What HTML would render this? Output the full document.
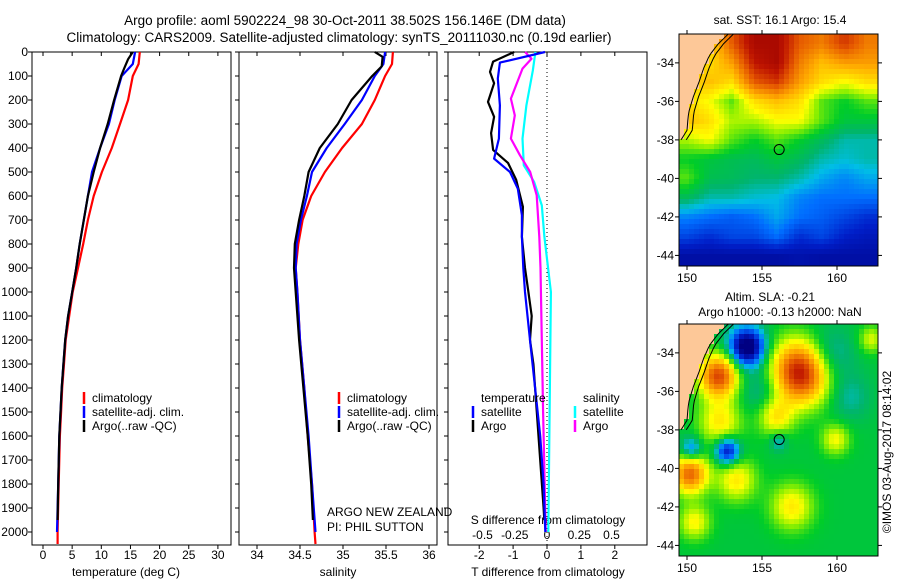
<!DOCTYPE html>
<html><head><meta charset="utf-8"><style>
body{margin:0;background:#fff;}
svg{display:block;font-family:"Liberation Sans",sans-serif;}
text{fill:#000;}
</style></head><body>
<svg id="fig" width="900" height="580" xmlns="http://www.w3.org/2000/svg">
<text x="345" y="25" font-size="13.5" text-anchor="middle">Argo profile: aoml 5902224_98 30-Oct-2011 38.502S 156.146E (DM data)</text>
<text x="339" y="42" font-size="13.5" text-anchor="middle">Climatology: CARS2009. Satellite-adjusted climatology: synTS_20111030.nc (0.19d earlier)</text>
<g id="p1"></g>
<g id="p2"></g>
<g id="p3"></g>
<g id="m1"></g>
<g id="m2"></g>
<text x="780" y="24" font-size="12" text-anchor="middle">sat. SST: 16.1 Argo: 15.4</text>
<text x="770" y="301" font-size="12" text-anchor="middle">Altim. SLA: -0.21</text>
<text x="780" y="316" font-size="12" text-anchor="middle">Argo h1000: -0.13 h2000: NaN</text>
<text transform="translate(891,452) rotate(-90)" font-size="12" text-anchor="middle">©IMOS 03-Aug-2017 08:14:02</text>
<text x="327" y="516" font-size="12">ARGO NEW ZEALAND</text>
<text x="327" y="531" font-size="12">PI: PHIL SUTTON</text>
</svg>
<script>
// ---- data ----
const depthTicks=[0,100,200,300,400,500,600,700,800,900,1000,1100,1200,1300,1400,1500,1600,1700,1800,1900,2000];
const tempTicks=[0,5,10,15,20,25,30];
const salTicks=[34,34.5,35,35.5,36];
const tdiffTicks=[-2,-1,0,1,2];
const sdiffTicks=[-0.5,-0.25,0,0.25,0.5];
const sdiffTickLabels=['-0.5','-0.25','0','0.25','0.5'];

const tDepth=[0,50,100,200,300,400,500,600,700,800,900,1000,1100,1200,1300,1400,1500,1600,1800,2000,2050];
const tClim=[16.6,16.4,15.4,14.6,13.2,11.8,10.1,8.7,7.7,6.9,6.0,5.1,4.5,3.9,3.6,3.3,3.1,2.9,2.7,2.5,2.5];
const tSat=[15.8,15.4,13.5,12.3,11.3,9.8,8.4,7.7,7.0,6.3,5.7,5.0,4.3,3.8,3.5,3.2,3.0,2.8,2.6,2.4,2.4];
const tArgoDepth=[0,30,70,100,200,300,400,500,600,700,800,900,1000,1100,1200,1400,1600,1800,1950];
const tArgo=[15.4,14.6,13.9,13.4,12.2,11.1,9.8,8.7,7.7,7.0,6.3,5.7,5.0,4.3,3.8,3.2,2.8,2.6,2.5];

const sDepth=[0,50,100,200,300,400,500,600,700,800,900,1000,1200,1400,1600,1800,2000,2050];
const sClim=[35.58,35.57,35.49,35.37,35.22,34.99,34.79,34.63,34.53,34.48,34.45,34.47,34.50,34.55,34.59,34.64,34.67,34.68];
const sSat=[35.49,35.47,35.37,35.22,35.02,34.81,34.64,34.58,34.51,34.46,34.45,34.47,34.5,34.55,34.6,34.64,34.68,34.68];
const sArgoDepth=[0,20,60,100,200,300,400,500,600,700,800,900,1000,1200,1400,1600,1800,1950];
const sArgo=[35.37,35.46,35.45,35.34,35.1,34.94,34.73,34.6,34.55,34.49,34.44,34.43,34.45,34.49,34.54,34.59,34.63,34.65];

const dtArgoDepth=[0,40,83,130,208,270,338,408,462,533,645,770,900,1000,1100,1200,1300,1500,1700,1900,1950];
const dtArgo=[-0.97,-1.59,-1.68,-1.56,-1.74,-1.56,-1.65,-1.59,-1.15,-0.91,-0.71,-0.74,-0.65,-0.55,-0.45,-0.5,-0.4,-0.3,-0.2,-0.1,-0.08];
const dtSatDepth=[0,44,111,222,361,444,500,569,680,770,900,1000,1200,1400,1600,1800,2000];
const dtSat=[-0.06,-1.39,-1.45,-1.39,-1.42,-1.56,-1.09,-0.86,-0.74,-0.74,-0.7,-0.65,-0.5,-0.35,-0.2,-0.1,-0.05];
const dsArgoDepth=[0,28,69,194,264,361,430,500,597,770,900,1200,1500,2000];
const dsArgo=[-0.17,-0.12,-0.19,-0.28,-0.25,-0.28,-0.21,-0.13,-0.08,-0.06,-0.05,-0.04,-0.03,-0.01];
const dsSatDepth=[0,78,222,361,472,541,639,770,1000,1500,2000];
const dsSat=[-0.09,-0.11,-0.16,-0.19,-0.18,-0.1,-0.04,-0.02,0.03,0.02,0.01];

const sstGrid=[
[-1,-1,0.8,0.95,0.95,0.8,0.75,0.85,0.75],
[-1,0.6,0.7,0.9,0.95,0.75,0.65,0.7,0.7],
[-1,0.65,0.6,0.8,0.85,0.7,0.6,0.55,0.6],
[0.6,0.55,0.45,0.6,0.65,0.6,0.45,0.4,0.45],
[0.65,0.6,0.5,0.5,0.55,0.55,0.45,0.38,0.38],
[0.5,0.55,0.45,0.4,0.45,0.4,0.35,0.3,0.3],
[0.4,0.38,0.36,0.35,0.38,0.35,0.3,0.28,0.3],
[0.45,0.36,0.35,0.33,0.33,0.3,0.25,0.22,0.25],
[0.35,0.3,0.3,0.28,0.27,0.22,0.2,0.2,0.2],
[0.22,0.2,0.18,0.2,0.25,0.2,0.18,0.15,0.12],
[0.15,0.12,0.15,0.15,0.2,0.12,0.15,0.1,0.08],
[0.05,0.05,0.05,0.05,0.05,0.06,0.05,0.05,0.05]];
// SLA anomaly blobs: lon, lat, amplitude, radius(deg)
const slaLon=[157.6,152.1,150.2,154.0,152.7,150.3,152.2,153.3,155.9,157.0,159.9,150.5,159.3,156.1,160.8,162.3,155.0];
const slaLat=[-35.0,-35.2,-40.3,-33.7,-39.1,-39.0,-37.6,-40.6,-37.3,-42.0,-38.5,-42.8,-34.2,-38.6,-36.3,-33.3,-36.0];
const slaAmp=[0.55,0.45,0.4,-0.45,-0.33,-0.2,0.2,0.2,0.2,0.2,0.17,0.18,-0.15,-0.12,-0.08,0.15,-0.1];
const slaRad=[1.6,1.1,1.0,1.0,0.7,0.6,1.2,1.1,1.0,1.2,0.8,0.9,1.4,0.5,1.2,0.7,1.2];

// ---- helpers ----
const NS='http://www.w3.org/2000/svg';
function mk(tag,attrs,parent){const e=document.createElementNS(NS,tag);for(const k in attrs)e.setAttribute(k,attrs[k]);parent.appendChild(e);return e;}
const yTop=52,yBot=545;
function yD(d){return yTop+d*0.24;}

function frame(g,x0,x1,name){
  const r=mk('rect',{x:x0,y:yTop,width:x1-x0,height:yBot-yTop,fill:'none',stroke:'#000','stroke-width':1},g);
  
  
}
function depthAxis(g,x0,labels){
  depthTicks.forEach(d=>{
    const t=mk('line',{x1:x0-4,x2:x0,y1:yD(d),y2:yD(d),stroke:'#000'},g);
    
    
    if(labels){
      const l=mk('text',{x:x0-4,y:yD(d)+4,'font-size':12,'text-anchor':'end'},g);
      l.textContent=d;
      
      
    }
  });
}
function xAxis(g,ticks,fx,labels){
  ticks.forEach((v,i)=>{
    const x=fx(v);
    const t=mk('line',{x1:x,x2:x,y1:yBot,y2:yBot+4,stroke:'#000'},g);
    
    
    const t2=mk('line',{x1:x,x2:x,y1:yTop,y2:yTop+4,stroke:'#000'},g);
    
    
    const l=mk('text',{x:x,y:yBot+14,'font-size':12,'text-anchor':'middle'},g);
    l.textContent=labels?labels[i]:v;
    
    
  });
}
function series(g,depths,vals,fx,color,name,w){
  const pts=depths.map((d,i)=>fx(vals[i]).toFixed(1)+','+yD(d).toFixed(1)).join(' ');
  const p=mk('polyline',{points:pts,fill:'none',stroke:color,'stroke-width':w||2.2,'stroke-linejoin':'round'},g);
  
  
}
function legendItem(g,x,y,color,label,name){
  const m=mk('line',{x1:x,x2:x,y1:y-6,y2:y+6,stroke:color,'stroke-width':2.5},g);
  
  
  if(label){
    const t=mk('text',{x:x+8,y:y+4,'font-size':12},g);
    t.textContent=label;
    
    
  }
}
function label(g,x,y,txt,name,anchor){
  const t=mk('text',{x:x,y:y,'font-size':12,'text-anchor':anchor||'middle'},g);
  t.textContent=txt;
  
  
}

// ---- panel 1: temperature ----
const p1=document.getElementById('p1');
const fT=v=>43+5.83*v;
frame(p1,32,231,'temperature');
depthAxis(p1,32,true);
xAxis(p1,tempTicks,fT);
series(p1,tDepth,tClim,fT,'#ff0000','temp-climatology-line');
series(p1,tDepth.slice(0,20),tSat.slice(0,20),fT,'#0000ff','temp-satellite-line');
series(p1,tArgoDepth,tArgo,fT,'#000000','temp-argo-line');
legendItem(p1,84,398,'#ff0000','climatology','legend-climatology');
legendItem(p1,84,412,'#0000ff','satellite-adj. clim.','legend-satellite');
legendItem(p1,84,426,'#000000','Argo(..raw -QC)','legend-argo');
label(p1,126,576,'temperature (deg C)','temperature-axis-title');

// ---- panel 2: salinity ----
const p2=document.getElementById('p2');
const fS=v=>257+86*(v-34);
frame(p2,239,437,'salinity');
depthAxis(p2,239,false);
xAxis(p2,salTicks,fS);
series(p2,sDepth,sClim,fS,'#ff0000','sal-climatology-line');
series(p2,sDepth.slice(0,17),sSat.slice(0,17),fS,'#0000ff','sal-satellite-line');
series(p2,sArgoDepth,sArgo,fS,'#000000','sal-argo-line');
legendItem(p2,339,398,'#ff0000','climatology','legend-climatology');
legendItem(p2,339,412,'#0000ff','satellite-adj. clim.','legend-satellite');
legendItem(p2,339,426,'#000000','Argo(..raw -QC)','legend-argo');
label(p2,338,576,'salinity','salinity-axis-title');

// ---- panel 3: differences ----
const p3=document.getElementById('p3');
const fDT=v=>547+33.9*v;
const fDS=v=>547+129*v;
frame(p3,448,647,'difference');
depthAxis(p3,448,false);
xAxis(p3,tdiffTicks,fDT);
const zl=mk('line',{x1:fDT(0),x2:fDT(0),y1:yTop,y2:yBot,stroke:'#000','stroke-dasharray':'1,3'},p3);


sdiffTicks.forEach((v,i)=>label(p3,fDS(v),539,sdiffTickLabels[i],'s-diff-tick-label'));
label(p3,548,524,'S difference from climatology','s-diff-axis-title');
series(p3,dsSatDepth,dsSat,fDS,'#00ffff','sdiff-satellite-line');
series(p3,dsArgoDepth,dsArgo,fDS,'#ff00ff','sdiff-argo-line');
series(p3,dtArgoDepth,dtArgo,fDT,'#000000','tdiff-argo-line');
series(p3,dtSatDepth,dtSat,fDT,'#0000ff','tdiff-satellite-line');
label(p3,481,402,'temperature','legend-temperature-heading','start');
legendItem(p3,473,412,'#0000ff','satellite','legend-t-satellite');
legendItem(p3,473,426,'#000000','Argo','legend-t-argo');
label(p3,583,402,'salinity','legend-salinity-heading','start');
legendItem(p3,575,412,'#00ffff','satellite','legend-s-satellite');
legendItem(p3,575,426,'#ff00ff','Argo','legend-s-argo');
label(p3,548,576,'T difference from climatology','t-diff-axis-title');

// ---- maps ----
function jet(v){
  const stops=[[0,[0,0,130]],[0.1,[0,30,200]],[0.2,[0,110,255]],[0.27,[0,190,230]],[0.33,[0,180,110]],[0.4,[0,205,40]],[0.48,[140,240,0]],[0.55,[255,255,0]],[0.68,[255,170,0]],[0.8,[230,90,0]],[0.9,[190,20,0]],[1,[150,0,0]]];
  v=Math.max(0,Math.min(1,v));
  for(let i=1;i<stops.length;i++){if(v<=stops[i][0]){const a=stops[i-1],b=stops[i],t=(v-a[0])/(b[0]-a[0]);
    return 'rgb('+a[1].map((c,k)=>Math.round(c+(b[1][k]-c)*t)).join(',')+')';}}
  return 'rgb(150,0,0)';
}
const lat0=-32.5,lat1=-44.55;
function coastX(lat){
  const cl=[[-32.5,152.75],[-33,152.1],[-33.6,151.5],[-34.3,151.1],[-35,150.8],[-35.8,150.4],[-36.6,150.1],[-37.5,150.0],[-38,149.6]];
  if(lat>cl[0][0])return 152.75;
  for(let i=1;i<cl.length;i++){if(lat>=cl[i][0]){const a=cl[i-1],b=cl[i],t=(lat-a[0])/(b[0]-a[0]);return a[1]+(b[1]-a[1])*t;}}
  return 0;
}
function drawMap(gid,yT,yB,valFn,name){
  const g=document.getElementById(gid);
  const xL=679,xR=878;
  const fx=lon=>687+15*(lon-150);
  const fy=lat=>yT+(lat0-lat)/(lat0-lat1)*(yB-yT);
  const cw=5,ch=5;
  for(let y=yT;y<yB;y+=ch){for(let x=xL;x<xR;x+=cw){
    const lon=150+(x+cw/2-687)/15, lat=lat0-(y+ch/2-yT)/(yB-yT)*(lat0-lat1);
    const land=lon<coastX(lat);
    const c=land?'#fdc898':jet(valFn(lon,lat));
    const r=mk('rect',{x:x,y:y,width:Math.min(cw,xR-x)+0.3,height:Math.min(ch,yB-y)+0.3,fill:c},g);
    
    
  }}
  const c1=[],c2=[];
  for(let lat=lat0;lat>=-38;lat-=0.25){c1.push(fx(coastX(lat)).toFixed(1)+','+fy(lat).toFixed(1));c2.push(fx(coastX(lat)+0.35).toFixed(1)+','+fy(lat).toFixed(1));}
  const cl=mk('polyline',{points:c1.join(' '),fill:'none',stroke:'#000','stroke-width':1},g);
  
  
  const cc=mk('polyline',{points:c2.join(' '),fill:'none',stroke:'#000','stroke-width':1},g);
  
  
  const fr=mk('rect',{x:xL,y:yT,width:xR-xL,height:yB-yT,fill:'none',stroke:'#000'},g);
  
  
  const ci=mk('circle',{cx:fx(156.146),cy:fy(-38.502),r:5,fill:'none',stroke:'#000'},g);
  
  
  [150,155,160].forEach(lon=>{
    const x=fx(lon);
    const t=mk('line',{x1:x,x2:x,y1:yB,y2:yB+4,stroke:'#000'},g);
    const t2=mk('line',{x1:x,x2:x,y1:yT-4,y2:yT,stroke:'#000'},g);
    const l=mk('text',{x:x,y:yB+16,'font-size':12,'text-anchor':'middle'},g);l.textContent=lon;
  });
  [-34,-36,-38,-40,-42,-44].forEach(lat=>{
    const y=fy(lat);
    const t=mk('line',{x1:xL-4,x2:xL,y1:y,y2:y,stroke:'#000'},g);
    const t2=mk('line',{x1:xR,x2:xR+4,y1:y,y2:y,stroke:'#000'},g);
    const l=mk('text',{x:xL-5,y:y+4,'font-size':12,'text-anchor':'end'},g);l.textContent=lat;
  });
}
function sstVal(lon,lat){
  const rows=sstGrid.length,cols=sstGrid[0].length;
  let fr=(-33-lat)/11*(rows-1), fc=(lon-150)/12*(cols-1);
  fr=Math.max(0,Math.min(rows-1,fr));fc=Math.max(0,Math.min(cols-1,fc));
  const r0=Math.floor(fr),c0=Math.floor(fc),r1=Math.min(rows-1,r0+1),c1=Math.min(cols-1,c0+1);
  const g=(r,c)=>{const v=sstGrid[r][c];return v<0?0.6:v;};
  const tr=fr-r0,tc=fc-c0;
  return (g(r0,c0)*(1-tc)+g(r0,c1)*tc)*(1-tr)+(g(r1,c0)*(1-tc)+g(r1,c1)*tc)*tr;
}
function slaVal(lon,lat){
  let v=0.38;
  for(let i=0;i<slaLon.length;i++){const dx=(lon-slaLon[i])*0.85,dy=lat-slaLat[i];v+=slaAmp[i]*Math.exp(-(dx*dx+dy*dy)/(slaRad[i]*slaRad[i]));}
  return v;
}
drawMap('m1',34,266,sstVal,'sst-map');
drawMap('m2',324,556,slaVal,'sla-map');
</script>
</body></html>
